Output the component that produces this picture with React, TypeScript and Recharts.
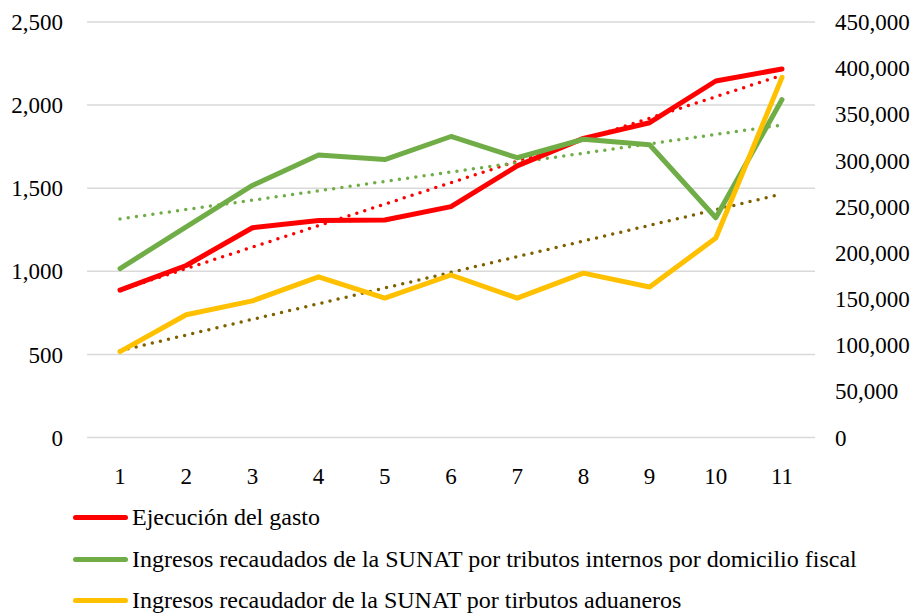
import React from "react";
import {
  LineChart,
  Line,
  XAxis,
  YAxis,
  CartesianGrid,
  Legend,
} from "recharts";

// categories 1..11
const periods = ["1", "2", "3", "4", "5", "6", "7", "8", "9", "10", "11"];

// Ejecución del gasto (left axis)
const gasto = [887, 1035, 1262, 1305, 1309, 1389, 1634, 1800, 1894, 2145, 2217];

// Ingresos SUNAT tributos internos (right axis)
const internos = [183000, 228000, 273000, 306000, 301000, 326000, 303000, 323000, 317000, 238000, 366000];

// Ingresos SUNAT tributos aduaneros (right axis)
const aduaneros = [93000, 133000, 148000, 174000, 151000, 176000, 151000, 178000, 163000, 216000, 390000];

// linear trend lines, endpoints
const gastoTrend = [887, null, null, null, null, null, null, null, null, null, 2180];
const internosTrend = [236700, null, null, null, null, null, null, null, null, null, 338400];
const aduanerosTrend = [94000, null, null, null, null, null, null, null, null, null, 263700];

const seriesNames = [
  "Ejecución del gasto",
  "Ingresos recaudados de la SUNAT por tributos internos por domicilio fiscal",
  "Ingresos recaudador de la SUNAT por tirbutos aduaneros",
];

const leftTicks = [0, 500, 1000, 1500, 2000, 2500];
const rightTicks = [0, 50000, 100000, 150000, 200000, 250000, 300000, 350000, 400000, 450000];

const data = periods.map((p, i) => ({
  period: p,
  gasto: gasto[i],
  internos: internos[i],
  aduaneros: aduaneros[i],
  gastoTrend: gastoTrend[i],
  internosTrend: internosTrend[i],
  aduanerosTrend: aduanerosTrend[i],
}));

const FONT = "'Times New Roman', 'Liberation Serif', Tinos, 'DejaVu Serif', serif";
const fmt = (v: number) => v.toLocaleString("en-US");

function LegendBox({ payload }: { payload?: Array<{ value: string; color: string; type?: string }> }) {
  // keep the series order, the default sorter is alphabetical
  const items = (payload ?? [])
    .filter((p) => p.type !== "none")
    .sort((a, b) => seriesNames.indexOf(a.value) - seriesNames.indexOf(b.value));
  return (
    <div style={{ fontFamily: FONT, fontSize: 24, color: "#000" }}>
      {items.map((it) => (
        <div key={it.value} style={{ display: "flex", alignItems: "center", height: 41.5 }}>
          <span
            style={{
              display: "inline-block",
              width: 55,
              height: 5,
              borderRadius: 3,
              background: it.color,
              marginRight: 4,
            }}
          />
          <span>{it.value}</span>
        </div>
      ))}
    </div>
  );
}

export default function App() {
  return (
    <div style={{ position: "absolute", left: 0, top: 0, width: 921, height: 616, background: "#fff", fontFamily: FONT }}>
      <LineChart
        width={921}
        height={616}
        data={data}
        margin={{ top: 22, right: 0, bottom: 138.5, left: 0 }}
      >
        <CartesianGrid yAxisId="left" vertical={false} stroke="#d9d9d9" strokeWidth={1.5} />
        <XAxis
          dataKey="period"
          height={40}
          axisLine={false}
          tickLine={false}
          tickMargin={24}
          padding={{ left: 33, right: 33 }}
          tick={{ fill: "#000", fontSize: 23, fontFamily: FONT }}
        />
        <YAxis
          yAxisId="left"
          width={87}
          domain={[0, 2500]}
          ticks={leftTicks}
          axisLine={false}
          tickLine={false}
          tickMargin={18}
          tickFormatter={fmt}
          tick={{ fill: "#000", fontSize: 23, fontFamily: FONT }}
        />
        <YAxis
          yAxisId="right"
          orientation="right"
          width={106}
          domain={[0, 450000]}
          ticks={rightTicks}
          axisLine={false}
          tickLine={false}
          tickMargin={14}
          tickFormatter={fmt}
          tick={{ fill: "#000", fontSize: 23, fontFamily: FONT, textAnchor: "start" }}
        />
        <Legend
          layout="horizontal"
          verticalAlign="middle"
          align="center"
          wrapperStyle={{ top: 497, left: 73, width: 840 }}
          content={<LegendBox />}
        />
        {/* trend lines first so the series sit on top */}
        <Line
          yAxisId="left"
          dataKey="gastoTrend"
          stroke="#ff0000"
          strokeWidth={3.5}
          strokeDasharray="0 8.3"
          strokeLinecap="round"
          dot={false}
          connectNulls
          legendType="none"
          isAnimationActive={false}
        />
        <Line
          yAxisId="right"
          dataKey="internosTrend"
          stroke="#70ad47"
          strokeWidth={3.5}
          strokeDasharray="0 8.3"
          strokeLinecap="round"
          dot={false}
          connectNulls
          legendType="none"
          isAnimationActive={false}
        />
        <Line
          yAxisId="right"
          dataKey="aduanerosTrend"
          stroke="#7f6000"
          strokeWidth={3.5}
          strokeDasharray="0 8.3"
          strokeLinecap="round"
          dot={false}
          connectNulls
          legendType="none"
          isAnimationActive={false}
        />
        <Line
          yAxisId="left"
          dataKey="gasto"
          name={seriesNames[0]}
          stroke="#ff0000"
          strokeWidth={5}
          strokeLinejoin="round"
          strokeLinecap="round"
          dot={false}
          isAnimationActive={false}
        />
        <Line
          yAxisId="right"
          dataKey="internos"
          name={seriesNames[1]}
          stroke="#70ad47"
          strokeWidth={5}
          strokeLinejoin="round"
          strokeLinecap="round"
          dot={false}
          isAnimationActive={false}
        />
        <Line
          yAxisId="right"
          dataKey="aduaneros"
          name={seriesNames[2]}
          stroke="#ffc000"
          strokeWidth={5}
          strokeLinejoin="round"
          strokeLinecap="round"
          dot={false}
          isAnimationActive={false}
        />
      </LineChart>
    </div>
  );
}
